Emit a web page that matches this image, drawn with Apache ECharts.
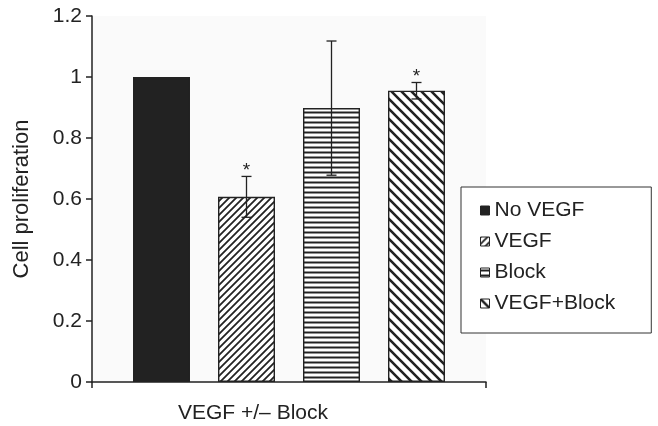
<!DOCTYPE html>
<html><head><meta charset="utf-8">
<script src="https://cdn.jsdelivr.net/npm/echarts@6/dist/echarts.min.js"></script>
<style>html,body{margin:0;padding:0;background:#fff}#c{width:658px;height:426px}</style>
</head><body><div id="c"></div>
<script>
const categories = ['VEGF +/\u2013 Block'];
const seriesNames = ['No VEGF', 'VEGF', 'Block', 'VEGF+Block'];
const means = [1.0, 0.607, 0.898, 0.955];
const errors = [0, 0.067, 0.22, 0.027];
const significant = [false, true, false, true];
const yTicks = { min: 0, max: 1.2, interval: 0.2 };

function makePattern(kind, size, lw) {
  const c = document.createElement('canvas');
  c.width = size; c.height = size;
  const g = c.getContext('2d');
  g.fillStyle = '#fff'; g.fillRect(0, 0, size, size);
  g.strokeStyle = '#222'; g.lineWidth = lw;
  g.beginPath();
  if (kind === 'h') {
    g.moveTo(0, size / 2); g.lineTo(size, size / 2);
  } else if (kind === '/') {
    for (let k = -1; k <= 1; k++) { g.moveTo(k * size - 1, size + 1); g.lineTo(k * size + size + 1, -1); }
  } else {
    for (let k = -1; k <= 1; k++) { g.moveTo(k * size - 1, -1); g.lineTo(k * size + size + 1, size + 1); }
  }
  g.stroke();
  return { image: c, repeat: 'repeat' };
}
const fills = ['#222', makePattern('/', 7, 1.8), makePattern('h', 5, 2), makePattern('\\', 10, 2.6)];

const chart = echarts.init(document.getElementById('c'), null, { renderer: 'canvas' });
const barW = 57, gapPx = 28;
const offsets = seriesNames.map((_, i) => (i - 1.5) * (barW + gapPx));
const FONT = '"Liberation Sans", Arial, sans-serif';

const barSeries = seriesNames.map((name, i) => ({
  name, type: 'bar', data: [means[i]], barWidth: barW, barGap: (gapPx / barW * 100) + '%',
  itemStyle: { color: fills[i], borderColor: '#222', borderWidth: 1.4 },
  emphasis: { disabled: true }
}));

const errSeries = {
  type: 'custom', silent: true, z: 5,
  data: means.map((m, i) => [0, m, errors[i], i]),
  renderItem: function (params, api) {
    const i = api.value(3), m = api.value(1), e = api.value(2);
    const children = [];
    const cx = api.coord([0, m])[0] + offsets[i];
    if (e > 0) {
      const top = api.coord([0, m + e])[1];
      const bot = api.coord([0, m - e])[1];
      const st = { stroke: '#222', lineWidth: 1.3 };
      children.push({ type: 'line', shape: { x1: cx, y1: top, x2: cx, y2: bot }, style: st });
      children.push({ type: 'line', shape: { x1: cx - 5, y1: top, x2: cx + 5, y2: top }, style: st });
      children.push({ type: 'line', shape: { x1: cx - 5, y1: bot, x2: cx + 5, y2: bot }, style: st });
      if (significant[i]) {
        children.push({ type: 'text', style: { text: '*', x: cx, y: top + 4, align: 'center', verticalAlign: 'bottom', font: '19px ' + FONT, fill: '#222' } });
      }
    }
    return { type: 'group', children };
  }
};

chart.setOption({
  animation: false,
  textStyle: { fontFamily: FONT },
  grid: { left: 92, top: 16, right: 172, bottom: 44, show: true, backgroundColor: '#fafafa', borderWidth: 0 },
  legend: {
    orient: 'vertical', left: 461, top: 187,
    padding: [13, 36, 19, 19], itemGap: 10, itemWidth: 9, itemHeight: 9,
    backgroundColor: '#fff', borderColor: '#333', borderWidth: 1,
    icon: 'rect', itemStyle: { borderColor: '#222', borderWidth: 1 },
    textStyle: { fontSize: 21, color: '#222' },
    data: seriesNames, selectedMode: false
  },
  xAxis: {
    type: 'category', data: categories,
    axisLine: { lineStyle: { color: '#222', width: 1.5 } },
    axisTick: { show: true, length: 6, lineStyle: { color: '#222', width: 1.5 } },
    axisLabel: { show: false }
  },
  yAxis: {
    type: 'value', min: yTicks.min, max: yTicks.max, interval: yTicks.interval,
    name: 'Cell proliferation', nameLocation: 'middle', nameGap: 59, nameRotate: 90,
    nameTextStyle: { fontSize: 22, color: '#222' },
    axisLine: { show: true, lineStyle: { color: '#222', width: 1.5 } },
    axisTick: { show: true, length: 6, lineStyle: { color: '#222', width: 1.5 } },
    axisLabel: { fontSize: 21, color: '#222', margin: 10 },
    splitLine: { show: false }
  },
  graphic: [{ type: 'text', x: 253, y: 413, style: { text: categories[0], x: 0, y: 0, align: 'center', verticalAlign: 'middle', font: '21px ' + FONT, fill: '#222' } }],
  series: barSeries.concat([errSeries])
});
</script></body></html>
